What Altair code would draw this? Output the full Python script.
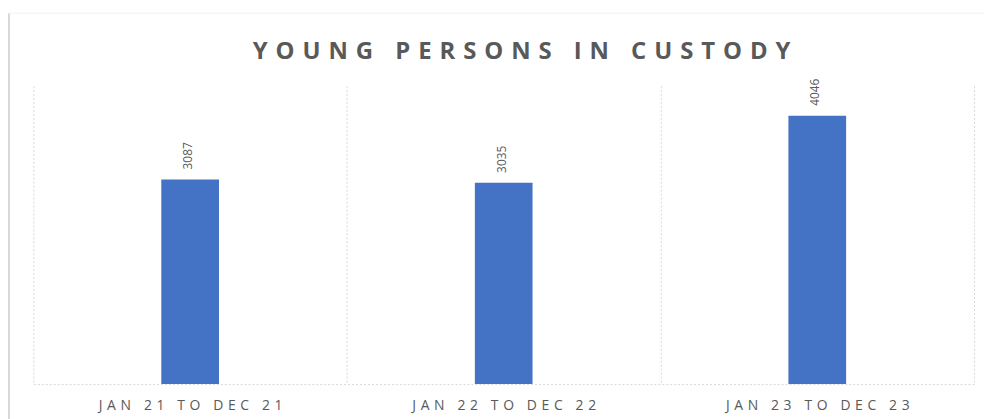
import altair as alt
import pandas as pd

periods = ["JAN 21 TO DEC 21", "JAN 22 TO DEC 22", "JAN 23 TO DEC 23"]
counts = [3087, 3035, 4046]
title_text = ["YOUNG PERSONS IN CUSTODY"]

df = pd.DataFrame({"period": periods, "count": counts})
tdf = pd.DataFrame({"t": title_text})
one = pd.DataFrame({"k": [0]})

W, H = 946, 300
GREY = "#595959"
SP_LABEL = "\u2004"
SP_TITLE = "\u2004"

x = alt.X(
    "period:N", sort=periods, title=None,
    scale=alt.Scale(paddingInner=0, paddingOuter=0),
    axis=alt.Axis(
        labelAngle=0, ticks=False, grid=True, tickBand="extent",
        gridColor="#d9d9d9", gridDash=[2, 2], gridWidth=1,
        domainColor="#d9d9d9", domainDash=[2, 2], domainWidth=1,
        labelColor=GREY, labelFont="Open Sans", labelFontSize=14,
        labelPadding=15, labelLimit=0,
        labelExpr="join(split(datum.label, ''), '" + SP_LABEL + "')",
    ),
)
y = alt.Y("count:Q", scale=alt.Scale(domain=[0, 4500]), axis=None)

base = alt.Chart(df).encode(x=x, y=y)

bars = base.mark_bar(color="#4472C4", width=alt.RelativeBandSize(0.184))

labels = base.mark_text(
    angle=270, align="left", baseline="middle", dx=10, dy=-2,
    font="Liberation Sans Narrow, Open Sans", fontSize=12, color=GREY,
).encode(text="count:Q")

title = alt.Chart(tdf).mark_text(
    font="Open Sans", fontWeight="bold", fontSize=24, color=GREY,
    align="center", baseline="alphabetic",
).transform_calculate(
    tt="join(split(datum.t, ''), '" + SP_TITLE + "')"
).encode(x=alt.value(491), y=alt.value(-27), text="tt:N")

left_border = alt.Chart(one).mark_rule(color="#d9d9d9", strokeWidth=2).encode(
    x=alt.value(-24.5), y=alt.value(-73), y2=alt.value(340)
)
top_border = alt.Chart(one).mark_rule(color="#f0f0f0", strokeWidth=1).encode(
    x=alt.value(-24.5), x2=alt.value(970), y=alt.value(-73)
)

chart = alt.layer(left_border, top_border, bars, labels, title).properties(
    width=W, height=H,
    padding={"left": 25.5, "top": 77, "right": 10, "bottom": 34},
    autosize=alt.AutoSizeParams(type="none"),
).configure_view(stroke=None)

chart.save("out.html", embed_options={"renderer": "svg", "actions": False})
